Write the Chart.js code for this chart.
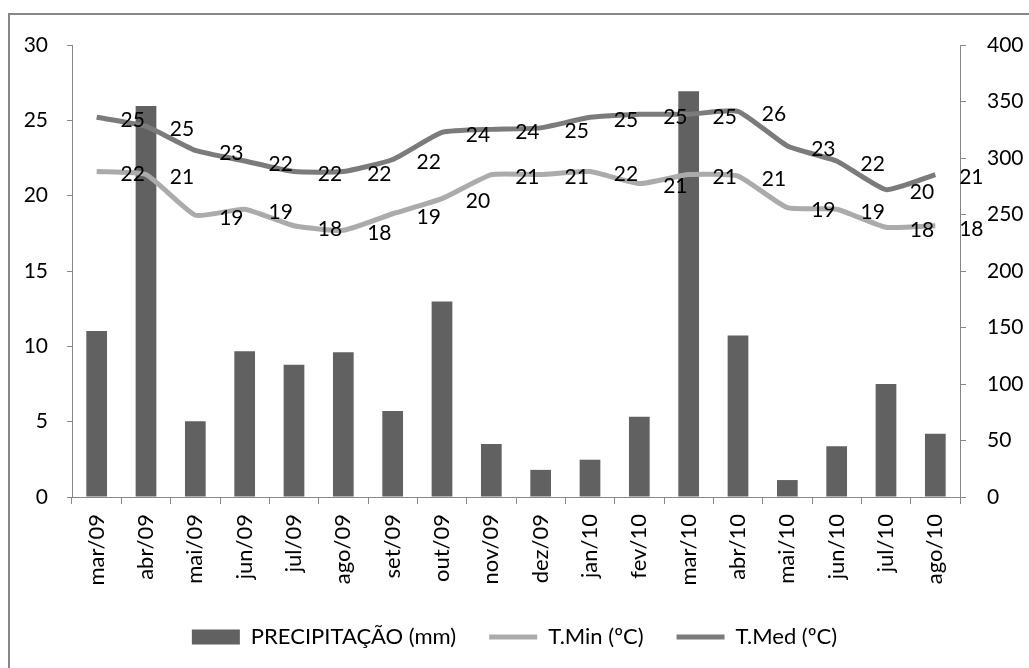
<!DOCTYPE html>
<html>
<head>
<meta charset="utf-8">
<script src="https://cdn.jsdelivr.net/npm/chart.js@4"></script>
<style>
  body { margin: 0; background: #fff; }
</style>
</head>
<body>
<canvas id="chart" width="1029" height="668"></canvas>
<script>
const months = ['mar/09', 'abr/09', 'mai/09', 'jun/09', 'jul/09', 'ago/09', 'set/09', 'out/09', 'nov/09',
    'dez/09', 'jan/10', 'fev/10', 'mar/10', 'abr/10', 'mai/10', 'jun/10', 'jul/10', 'ago/10'];
const precipitation = [147, 346, 67, 129, 117, 128, 76, 173, 47, 24, 33, 71, 359, 143, 15, 45, 100, 56];
const tMin = [21.6, 21.4, 18.7, 19.1, 18.0, 17.7, 18.8, 19.8, 21.4, 21.4, 21.6, 20.8, 21.4, 21.3, 19.2, 19.1, 17.9, 18.0];
const tMed = [25.2, 24.6, 23.0, 22.3, 21.6, 21.6, 22.4, 24.2, 24.4, 24.5, 25.2, 25.4, 25.4, 25.6, 23.3, 22.3, 20.4, 21.4];
const tempTicks = { min: 0, max: 30, step: 5 };
const rainTicks = { min: 0, max: 400, step: 50 };

const axisGray = '#888888';
Chart.defaults.font.family = 'Lato';
Chart.defaults.font.size = 21;
Chart.defaults.color = '#111';

// outer frame (only top and left edges visible in the picture)
const frame = {
    id: 'frame',
    beforeDraw(chart) {
        const ctx = chart.ctx;
        ctx.save();
        ctx.strokeStyle = '#878787';
        ctx.lineWidth = 2;
        ctx.beginPath();
        ctx.moveTo(9, chart.height);
        ctx.lineTo(9, 14);
        ctx.lineTo(chart.width, 14);
        ctx.stroke();
        ctx.restore();
    }
};

// value labels to the right of each temperature point
const pointLabels = {
    id: 'pointLabels',
    afterDatasetsDraw(chart) {
        const ctx = chart.ctx;
        ctx.save();
        ctx.font = '21px Lato';
        ctx.fillStyle = '#000';
        ctx.textAlign = 'center';
        ctx.textBaseline = 'middle';
        [1, 2].forEach(di => {
            const values = chart.data.datasets[di].data;
            chart.getDatasetMeta(di).data.forEach((pt, i) => {
                ctx.fillText(Math.round(values[i]), pt.x + 36, pt.y + 3);
            });
        });
        ctx.restore();
    }
};

new Chart(document.getElementById('chart'), {
    data: {
        labels: months,
        datasets: [
            {
                type: 'bar',
                label: 'PRECIPITAÇÃO (mm)',
                data: precipitation,
                yAxisID: 'y1',
                backgroundColor: '#616161',
                barPercentage: 0.42,
                categoryPercentage: 1,
                order: 2
            },
            {
                type: 'line',
                label: 'T.Min (ºC)',
                data: tMin,
                yAxisID: 'y',
                borderColor: '#ababab',
                backgroundColor: '#ababab',
                borderWidth: 5,
                pointRadius: 0,
                tension: 0.15,
                order: 1
            },
            {
                type: 'line',
                label: 'T.Med (ºC)',
                data: tMed,
                yAxisID: 'y',
                borderColor: '#7b7b7b',
                backgroundColor: '#7b7b7b',
                borderWidth: 5,
                pointRadius: 0,
                tension: 0.15,
                order: 0
            }
        ]
    },
    options: {
        responsive: false,
        animation: false,
        layout: { padding: { top: 45, right: 0, bottom: 10, left: 0 } },
        plugins: {
            tooltip: { enabled: false },
            legend: {
                position: 'bottom',
                labels: {
                    usePointStyle: true,
                    pointStyleWidth: 48,
                    boxHeight: 15,
                    padding: 33,
                    color: '#000',
                    font: { size: 22 },
                    sort: (a, b) => a.datasetIndex - b.datasetIndex,
                    generateLabels: chart => Chart.defaults.plugins.legend.labels.generateLabels(chart).map(item => {
                        item.pointStyle = item.datasetIndex === 0 ? 'rect' : 'line';
                        return item;
                    })
                }
            }
        },
        scales: {
            x: {
                offset: true,
                grid: { offset: true, drawOnChartArea: false, tickLength: 7, color: axisGray },
                border: { color: axisGray },
                ticks: { minRotation: 90, maxRotation: 90, padding: 10, color: '#000', font: { size: 22 } },
                afterFit: s => { s.height = 96; }
            },
            y: {
                position: 'left',
                min: tempTicks.min,
                max: tempTicks.max,
                ticks: { stepSize: tempTicks.step, padding: 19, color: '#000' },
                grid: { drawOnChartArea: false, tickLength: 5, color: axisGray },
                border: { color: axisGray },
                afterFit: s => { s.width = 72; }
            },
            y1: {
                position: 'right',
                min: rainTicks.min,
                max: rainTicks.max,
                ticks: { stepSize: rainTicks.step, padding: 21, color: '#000' },
                grid: { drawOnChartArea: false, tickLength: 6, color: axisGray },
                border: { color: axisGray },
                afterFit: s => { s.width = 69; }
            }
        }
    },
    plugins: [frame, pointLabels]
});
</script>
</body>
</html>
